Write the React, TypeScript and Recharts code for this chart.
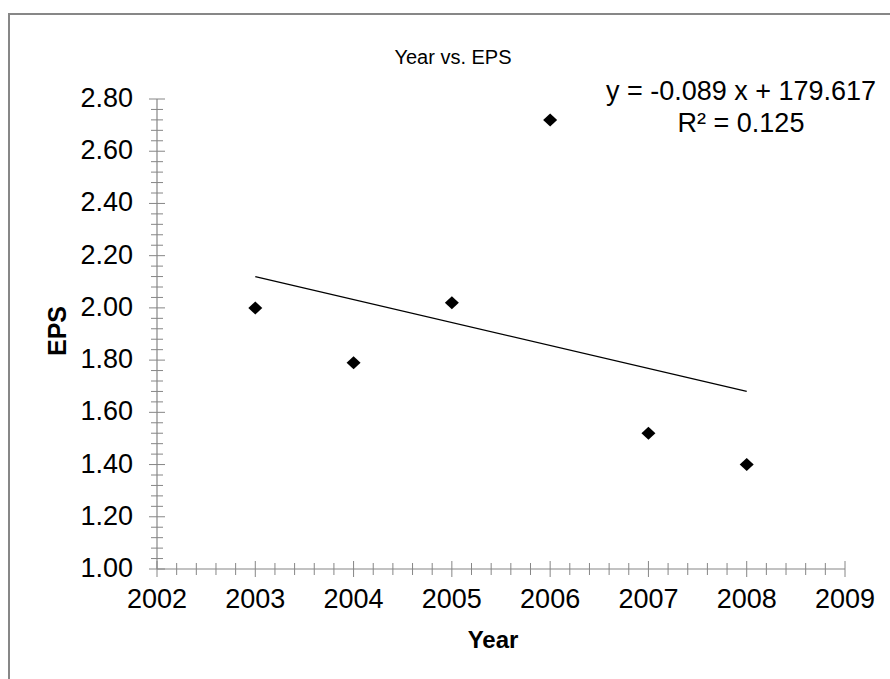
import React from "react";
import { ScatterChart, Scatter, XAxis, YAxis, ReferenceLine } from "recharts";

// ---- data ----
const years = [2003, 2004, 2005, 2006, 2007, 2008];
const eps = [2.0, 1.79, 2.02, 2.72, 1.52, 1.4];

// trendline endpoints as drawn in the reference
const trendYears = [2003, 2008];
const trendEps = [2.12, 1.68];

// tick labels
const xMajorTicks = [2002, 2003, 2004, 2005, 2006, 2007, 2008, 2009];
const yMajorTicks = [1.0, 1.2, 1.4, 1.6, 1.8, 2.0, 2.2, 2.4, 2.6, 2.8];
const minorDivisions = 5;

const title = "Year vs. EPS";
const xTitle = "Year";
const yTitle = "EPS";
const equationLines = ["y = -0.089 x + 179.617", "R\u00B2 = 0.125"];

// ---- derived tables ----
const points = years.map((y, i) => ({ year: y, eps: eps[i] }));

const subdivide = (majors: number[], digits: number) => {
  const out: number[] = [];
  for (let i = 0; i < majors.length - 1; i++) {
    const a = majors[i];
    const b = majors[i + 1];
    for (let k = 0; k < minorDivisions; k++) {
      out.push(+(a + ((b - a) * k) / minorDivisions).toFixed(digits));
    }
  }
  out.push(majors[majors.length - 1]);
  return out;
};
const xTicks = subdivide(xMajorTicks, 2);
const yTicks = subdivide(yMajorTicks, 3);

const isMajorX = (v: number) => xMajorTicks.some((m) => Math.abs(m - v) < 1e-6);
const isMajorY = (v: number) => yMajorTicks.some((m) => Math.abs(m - v) < 1e-6);

const FONT = "'Liberation Sans', Arial, sans-serif";
const AXIS = "#868686";

const XTick = (props: any) => {
  const { x, y, payload } = props;
  const v = payload.value;
  const major = isMajorX(v);
  const h = major ? 8 : 6;
  return (
    <g>
      <line x1={x} x2={x} y1={y - h} y2={y + h} stroke={AXIS} strokeWidth={1} />
      {major && (
        <text x={x} y={y + 39} textAnchor="middle" fontFamily={FONT} fontSize={27} fill="#000">
          {Math.round(v)}
        </text>
      )}
    </g>
  );
};

const YTick = (props: any) => {
  const { x, y, payload } = props;
  const v = payload.value;
  const major = isMajorY(v);
  const h = major ? 8 : 6;
  return (
    <g>
      <line x1={x - h} x2={x + h} y1={y} y2={y} stroke={AXIS} strokeWidth={1} />
      {major && (
        <text x={x - 24} y={y + 8} textAnchor="end" fontFamily={FONT} fontSize={27} fill="#000">
          {v.toFixed(2)}
        </text>
      )}
    </g>
  );
};

const Diamond = (props: any) => {
  const { cx, cy } = props;
  const rx = 7;
  const ry = 6.5;
  return (
    <path
      d={`M${cx},${cy - ry}L${cx + rx},${cy}L${cx},${cy + ry}L${cx - rx},${cy}Z`}
      fill="#000"
    />
  );
};

export default function App() {
  return (
    <div style={{ position: "absolute", left: 0, top: 0, width: 890, height: 679, background: "#fff" }}>
      <div
        style={{
          position: "absolute",
          left: 8,
          top: 13,
          width: 882,
          height: 666,
          boxSizing: "border-box",
          borderLeft: "2px solid #878787",
          borderTop: "2px solid #878787",
        }}
      />
      <div style={{ position: "absolute", left: 0, top: 0 }}>
        <ScatterChart
          width={890}
          height={679}
          margin={{ top: 99, right: 45, bottom: 60, left: 77 }}
        >
          <XAxis
            type="number"
            dataKey="year"
            domain={[2002, 2009]}
            ticks={xTicks}
            interval={0}
            tickSize={0}
            tickMargin={0}
            tickLine={false}
            axisLine={{ stroke: AXIS, strokeWidth: 1.2 }}
            tick={<XTick />}
            height={50}
            allowDataOverflow
          />
          <YAxis
            type="number"
            dataKey="eps"
            domain={[1, 2.8]}
            ticks={yTicks}
            interval={0}
            tickSize={0}
            tickMargin={0}
            tickLine={false}
            axisLine={{ stroke: AXIS, strokeWidth: 1.2 }}
            tick={<YTick />}
            width={80}
            allowDataOverflow
          />
          <ReferenceLine
            segment={[
              { x: trendYears[0], y: trendEps[0] },
              { x: trendYears[1], y: trendEps[1] },
            ]}
            stroke="#000"
            strokeWidth={1.3}
          />
          <Scatter data={points} shape={<Diamond />} isAnimationActive={false} />
        </ScatterChart>
      </div>
      <svg
        width={890}
        height={679}
        style={{ position: "absolute", left: 0, top: 0, pointerEvents: "none" }}
      >
        <text x={453} y={64} textAnchor="middle" fontFamily={FONT} fontSize={20} fill="#000">
          {title}
        </text>
        <text x={741} y={100} textAnchor="middle" fontFamily={FONT} fontSize={27} fill="#000">
          {equationLines[0]}
        </text>
        <text x={741} y={132} textAnchor="middle" fontFamily={FONT} fontSize={27} fill="#000">
          {equationLines[1]}
        </text>
        <text
          x={0}
          y={0}
          transform="translate(66,331) rotate(-90)"
          textAnchor="middle"
          fontFamily={FONT}
          fontSize={25}
          fontWeight="bold"
          fill="#000"
        >
          {yTitle}
        </text>
        <text x={493} y={648} textAnchor="middle" fontFamily={FONT} fontSize={24} fontWeight="bold" fill="#000">
          {xTitle}
        </text>
      </svg>
    </div>
  );
}
